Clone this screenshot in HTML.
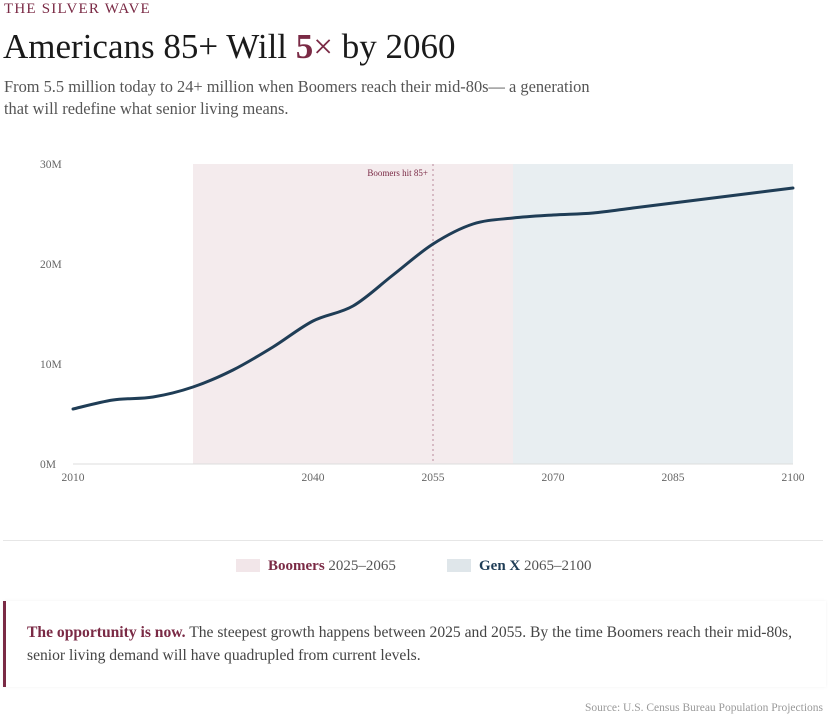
<!DOCTYPE html>
<html><head><meta charset="utf-8"><style>
body{margin:0;width:828px;height:721px;background:#fff;font-family:"Liberation Serif",serif;position:relative;overflow:hidden}
.abs{position:absolute;white-space:nowrap}
</style></head><body>
<div class="abs" style="left:4px;top:1px;font-size:15px;letter-spacing:1.2px;color:#7a2a45">THE SILVER WAVE</div>
<div class="abs" style="left:3px;top:27px;font-size:35px;color:#1a1a1a">Americans 85+ Will <b style="color:#7a2a45">5</b><span style="color:#7a2a45">×</span> by 2060</div>
<div class="abs" style="left:4px;top:76px;font-size:16.4px;line-height:22px;color:#555">From 5.5 million today to 24+ million when Boomers reach their mid-80s— a generation<br>that will redefine what senior living means.</div>
<svg class="abs" style="left:0;top:0" width="828" height="530" id="chart"></svg>
<div class="abs" style="left:3px;top:540px;width:820px;height:1px;background:#e6e6e6"></div>
<div class="abs" style="left:236px;top:558px;font-size:15px;color:#555"><span style="display:inline-block;width:24px;height:13px;background:#f2e6e9;vertical-align:-2px;margin-right:8px"></span><b style="color:#7a2a45">Boomers</b> 2025–2065</div>
<div class="abs" style="left:447px;top:558px;font-size:15px;color:#555"><span style="display:inline-block;width:24px;height:13px;background:#dfe6ea;vertical-align:-2px;margin-right:8px"></span><b style="color:#1f3d56">Gen X</b> 2065–2100</div>
<div class="abs" style="left:3px;top:601px;width:820px;height:86px;border-left:3px solid #7a2a45;box-shadow:0 0 3px rgba(0,0,0,0.06);background:#fff"></div>
<div class="abs" style="left:27px;top:621px;font-size:15.6px;line-height:23px;color:#444"><b style="color:#7a2a45">The opportunity is now.</b> The steepest growth happens between 2025 and 2055. By the time Boomers reach their mid-80s,<br>senior living demand will have quadrupled from current levels.</div>
<div class="abs" style="right:5px;top:702px;font-size:11.5px;color:#999">Source: U.S. Census Bureau Population Projections</div>
<script>
const years=[2010,2015,2020,2025,2030,2035,2040,2045,2050,2055,2060,2065,2070,2075,2080,2085,2090,2095,2100];
const values=[5.5,6.4,6.7,7.7,9.4,11.7,14.3,15.8,18.9,22.0,24.0,24.6,24.9,25.1,25.6,26.1,26.6,27.1,27.6];
const yTicks=[0,10,20,30];
const yTickLabels=["0M","10M","20M","30M"];
const xTicks=[2010,2040,2055,2070,2085,2100];
const eras=[{name:"boomers",from:2025,to:2065,color:"#f4ebed"},{name:"genx",from:2065,to:2100,color:"#e8eef1"}];
const marker={year:2055,label:"Boomers hit 85+"};
const X=y=>73+(y-2010)*8, Y=v=>464-v*10;
const svg=document.getElementById('chart'),NS='http://www.w3.org/2000/svg';
function mk(t,a,n){const e=document.createElementNS(NS,t);for(const k in a)e.setAttribute(k,a[k]);svg.appendChild(e);return e;}
eras.forEach(r=>{const e=mk('rect',{x:X(r.from),y:Y(30),width:X(r.to)-X(r.from),height:Y(0)-Y(30),fill:r.color},'era-'+r.name);});
mk('line',{x1:X(2010),x2:X(2100),y1:Y(0),y2:Y(0),stroke:'#ddd'},'x-axis');
yTicks.forEach((t,i)=>{const e=mk('text',{x:40,y:Y(t)+4,'font-size':11.5,fill:'#666','font-family':'Liberation Serif'},'y-tick');e.textContent=yTickLabels[i];});
xTicks.forEach(t=>{const e=mk('text',{x:X(t),y:481,'font-size':11.5,fill:'#666','text-anchor':'middle','font-family':'Liberation Serif'},'x-tick');e.textContent=t;});
mk('line',{x1:X(marker.year),x2:X(marker.year),y1:Y(30),y2:Y(0),stroke:'#b98a9a','stroke-dasharray':'2,3'},'marker-line');
const ml=mk('text',{x:X(marker.year)-5,y:Y(30)+12,'font-size':9,fill:'#7a2a45','text-anchor':'end','font-family':'Liberation Serif'},'marker-label');ml.textContent=marker.label;
const P=years.map((y,i)=>[X(y),Y(values[i])]);
let d='M'+P[0][0]+','+P[0][1];
for(let i=0;i<P.length-1;i++){const p0=P[Math.max(0,i-1)],p1=P[i],p2=P[i+1],p3=P[Math.min(P.length-1,i+2)];
d+=` C${p1[0]+(p2[0]-p0[0])/6},${p1[1]+(p2[1]-p0[1])/6} ${p2[0]-(p3[0]-p1[0])/6},${p2[1]-(p3[1]-p1[1])/6} ${p2[0]},${p2[1]}`;}
mk('path',{d:d,fill:'none',stroke:'#1f3d56','stroke-width':3,'stroke-linecap':'round'},'population-line');
</script>
</body></html>
